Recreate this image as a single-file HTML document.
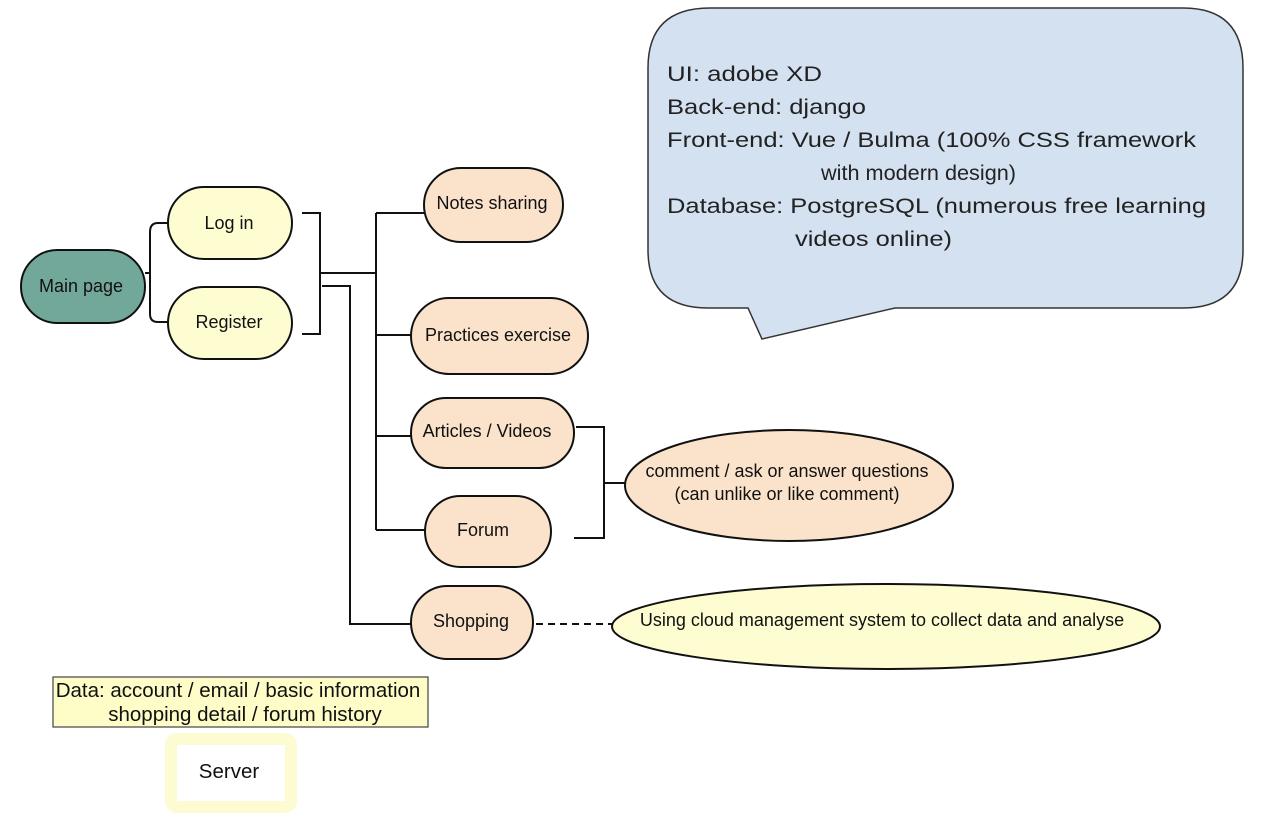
<!DOCTYPE html>
<html><head><meta charset="utf-8"><style>
html,body{margin:0;padding:0;background:#fff;}
svg{display:block;font-family:"Liberation Sans",Arial,sans-serif;}
</style></head><body>
<svg width="1278" height="826" viewBox="0 0 1278 826" xmlns="http://www.w3.org/2000/svg">
<path d="M710,8 H1183 Q1243,8 1243,68 V250 Q1243,308 1183,308 H895 L762,339 L748,308 H708 Q648,308 648,250 V68 Q648,8 710,8 Z" fill="#d4e1f0" stroke="#333" stroke-width="1.5"/>
<g font-size="21" fill="#222" lengthAdjust="spacingAndGlyphs">
<text x="667" y="81" textLength="155" lengthAdjust="spacingAndGlyphs">UI: adobe XD</text>
<text x="667" y="114" textLength="199" lengthAdjust="spacingAndGlyphs">Back-end: django</text>
<text x="667" y="147" textLength="529" lengthAdjust="spacingAndGlyphs">Front-end: Vue / Bulma (100% CSS framework</text>
<text x="821" y="180" textLength="195" lengthAdjust="spacingAndGlyphs">with modern design)</text>
<text x="667" y="213" textLength="539" lengthAdjust="spacingAndGlyphs">Database: PostgreSQL (numerous free learning</text>
<text x="795" y="246" textLength="157" lengthAdjust="spacingAndGlyphs">videos online)</text>
</g>
<g fill="none" stroke="#111" stroke-width="2">
<path d="M168,223 H158 Q150,223 150,232 V314 Q150,322 158,322 H168"/>
<path d="M145,273 H150"/>
<path d="M302,213 H320 V334 H302"/>
<path d="M320,273 H376"/>
<path d="M376,213 V530"/>
<path d="M376,213 H424 M376,335 H411 M376,436 H411 M376,530 H425"/>
<path d="M322,286 H350 V624 H412"/>
<path d="M576,427 H604 V538 H574"/>
<path d="M604,483 H625"/>
<path d="M536,624 H612" stroke-dasharray="7,5"/>
</g>
<g stroke="#111" stroke-width="2">
<rect x="21" y="250" width="124" height="73" rx="36.5" fill="#72a89a"/>
<rect x="168" y="187" width="124" height="72" rx="36" fill="#fefdd2"/>
<rect x="168" y="287" width="124" height="72" rx="36" fill="#fefdd2"/>
<rect x="424" y="168" width="139" height="74" rx="37" fill="#fbe3cb"/>
<rect x="411" y="298" width="177" height="76" rx="38" fill="#fbe3cb"/>
<rect x="411" y="398" width="163" height="70" rx="35" fill="#fbe3cb"/>
<rect x="425" y="496" width="126" height="71" rx="35.5" fill="#fbe3cb"/>
<rect x="411" y="586" width="122" height="73" rx="36.5" fill="#fbe3cb"/>
<ellipse cx="789" cy="485.5" rx="164" ry="55.5" fill="#fbe3cb"/>
<ellipse cx="886" cy="626.5" rx="274" ry="42.5" fill="#fefdd2"/>
</g>
<g font-size="18" fill="#111" text-anchor="middle">
<text x="81" y="292">Main page</text>
<text x="229" y="229">Log in</text>
<text x="229" y="328">Register</text>
<text x="492" y="209">Notes sharing</text>
<text x="498" y="341">Practices exercise</text>
<text x="487" y="437">Articles / Videos</text>
<text x="483" y="536">Forum</text>
<text x="471" y="627">Shopping</text>
<text x="787" y="477">comment / ask or answer questions</text>
<text x="787" y="500">(can unlike or like comment)</text>
<text x="882" y="626">Using cloud management system to collect data and analyse</text>
</g>
<rect x="53" y="677" width="375" height="50" fill="#fefdc8" stroke="#444" stroke-width="1.2"/>
<g font-size="20.5" fill="#111" text-anchor="middle">
<text x="238" y="697">Data: account / email / basic information</text>
<text x="245" y="721">shopping detail / forum history</text>
</g>
<rect x="171" y="739" width="120" height="68" rx="6" fill="#fff" stroke="#fdfbd2" stroke-width="12"/>
<text x="229" y="778" font-size="20.5" fill="#111" text-anchor="middle">Server</text>
</svg>
</body></html>
